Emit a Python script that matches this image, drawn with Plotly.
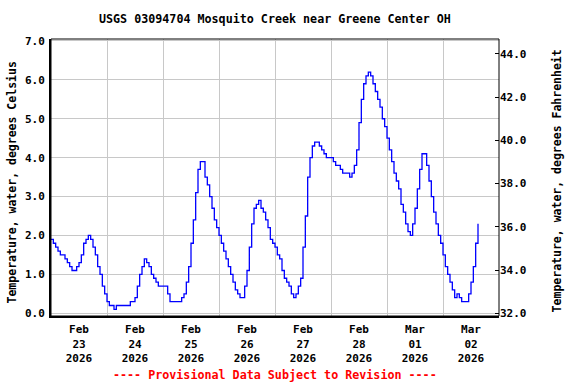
import pandas as pd
import plotly.graph_objects as go

# Hourly water temperature readings (deg C), starting 2026-02-23 00:00
feb23 = [1.9,1.8,1.7,1.6,1.5,1.5,1.4,1.3,1.2,1.1,1.1,1.2,1.3,1.5,1.8,1.9,2.0,1.9,1.7,1.5,1.2,1.0,0.7,0.5]
feb24 = [0.3,0.2,0.2,0.1,0.2,0.2,0.2,0.2,0.2,0.2,0.3,0.3,0.4,0.7,1.0,1.2,1.4,1.3,1.2,1.0,0.9,0.8,0.7,0.7]
feb25 = [0.7,0.7,0.5,0.3,0.3,0.3,0.3,0.3,0.4,0.5,0.8,1.2,1.8,2.4,3.1,3.7,3.9,3.9,3.5,3.3,3.0,2.7,2.4,2.2]
feb26 = [2.0,1.8,1.6,1.4,1.2,1.0,0.8,0.6,0.5,0.4,0.4,0.7,1.1,1.7,2.3,2.7,2.8,2.9,2.7,2.6,2.4,2.2,1.9,1.8]
feb27 = [1.7,1.5,1.4,1.1,0.9,0.8,0.7,0.5,0.4,0.5,0.7,0.9,1.7,2.5,3.5,4.0,4.3,4.4,4.4,4.3,4.2,4.1,4.0,4.0]
feb28 = [4.0,3.9,3.8,3.8,3.7,3.6,3.6,3.6,3.5,3.6,3.8,4.2,4.9,5.5,5.9,6.1,6.2,6.1,5.9,5.7,5.5,5.3,5.0,4.8]
mar01 = [4.5,4.2,3.9,3.6,3.4,3.2,2.8,2.6,2.3,2.1,2.0,2.3,2.7,3.2,3.7,4.1,4.1,3.8,3.4,3.0,2.6,2.3,2.0,1.8]
mar02 = [1.5,1.2,1.0,0.8,0.6,0.4,0.5,0.4,0.3,0.3,0.3,0.5,0.8,1.2,1.8,2.3]

temps_c = feb23 + feb24 + feb25 + feb26 + feb27 + feb28 + mar01 + mar02
times = pd.date_range("2026-02-23 00:00", periods=len(temps_c), freq="h")
temps_f = [c * 1.8 + 32 for c in temps_c]

day_dates = pd.date_range("2026-02-23", "2026-03-03", freq="D")
label_pos = [d + pd.Timedelta(hours=12) for d in day_dates[:-1]]
tick_labels = ["Feb<br>23<br>2026", "Feb<br>24<br>2026", "Feb<br>25<br>2026", "Feb<br>26<br>2026",
               "Feb<br>27<br>2026", "Feb<br>28<br>2026", "Mar<br>01<br>2026", "Mar<br>02<br>2026"]
c_ticks = [0, 1, 2, 3, 4, 5, 6, 7]
f_ticks = [32, 34, 36, 38, 40, 42, 44]

C_RANGE = [-0.07, 7.05]
F_RANGE = [C_RANGE[0] * 1.8 + 32, C_RANGE[1] * 1.8 + 32]

FONT = "DejaVu Sans Mono"
PLOT_H = 277

fig = go.Figure()
fig.add_trace(go.Scatter(x=times, y=temps_c, mode="lines", line=dict(color="#0000ff", width=1.3, shape="hv"),
                         showlegend=False, hoverinfo="skip"))
fig.add_trace(go.Scatter(x=times, y=temps_f, mode="lines", yaxis="y2",
                         line=dict(color="rgba(0,0,0,0)", width=0, shape="hv"),
                         showlegend=False, hoverinfo="skip"))

fig.update_layout(
    width=576, height=384,
    margin=dict(l=51, r=77, t=39, b=68, autoexpand=False),
    paper_bgcolor="white", plot_bgcolor="white",
    font=dict(family=FONT, size=11, color="black", weight="bold"),
    xaxis=dict(
        range=[day_dates[0], day_dates[-1]], automargin=False,
        tickmode="array", tickvals=label_pos, ticktext=tick_labels,
        ticks="", showgrid=False, zeroline=False, ticklabelstandoff=2,
        showline=True, linecolor="black", linewidth=2,
        tickfont=dict(family=FONT, size=11, color="black", weight="bold"),
        minor=dict(tickmode="array", tickvals=list(day_dates), showgrid=True,
                   gridcolor="#c8c8c8", gridwidth=1, ticks=""),
    ),
    yaxis=dict(
        range=C_RANGE, automargin=False, tickmode="array", tickvals=c_ticks, tickformat=".1f",
        ticks="", showgrid=True, gridcolor="#c8c8c8", gridwidth=1, zeroline=False,
        showline=True, linecolor="black", linewidth=2, ticklabelstandoff=2,
        tickfont=dict(family=FONT, size=11, color="black", weight="bold"),
    ),
    yaxis2=dict(
        range=F_RANGE, automargin=False, overlaying="y", side="right", tickmode="array", tickvals=f_ticks,
        tickformat=".1f", ticks="inside", ticklen=4, tickcolor="black", showgrid=False,
        zeroline=False, showline=False,
        tickfont=dict(family=FONT, size=11, color="black", weight="bold"),
    ),
    shapes=[dict(type="rect", xref="paper", yref="paper", x0=0, x1=1, y0=0, y1=1,
                 line=dict(color="black", width=1), fillcolor="rgba(0,0,0,0)", layer="above")],
    annotations=[
        dict(text="USGS 03094704 Mosquito Creek near Greene Center OH", xref="paper", yref="paper",
             x=0.5, y=1 + 20 / PLOT_H, xanchor="center", yanchor="middle", showarrow=False,
             font=dict(family=FONT, size=11.7, color="black", weight="bold")),
        dict(text="Temperature, water, degrees Celsius", xref="paper", yref="paper",
             x=(12 - 51) / 448, y=0.482, textangle=-90, xanchor="center", yanchor="middle",
             showarrow=False, font=dict(family=FONT, size=11.5, color="black", weight="bold")),
        dict(text="Temperature, water, degrees Fahrenheit", xref="paper", yref="paper",
             x=(557 - 51) / 448, y=0.486, textangle=-90, xanchor="center", yanchor="middle",
             showarrow=False, font=dict(family=FONT, size=11.5, color="black", weight="bold")),
        dict(text="---- Provisional Data Subject to Revision ----", xref="paper", yref="paper",
             x=0.5, y=-(375 - 316) / PLOT_H, xanchor="center", yanchor="middle", showarrow=False,
             font=dict(family=FONT, size=11.7, color="red", weight="bold")),
    ],
)

fig.write_html("out.html", config={"displayModeBar": False},
               post_script="document.body.style.margin='0';document.body.style.padding='0';")
